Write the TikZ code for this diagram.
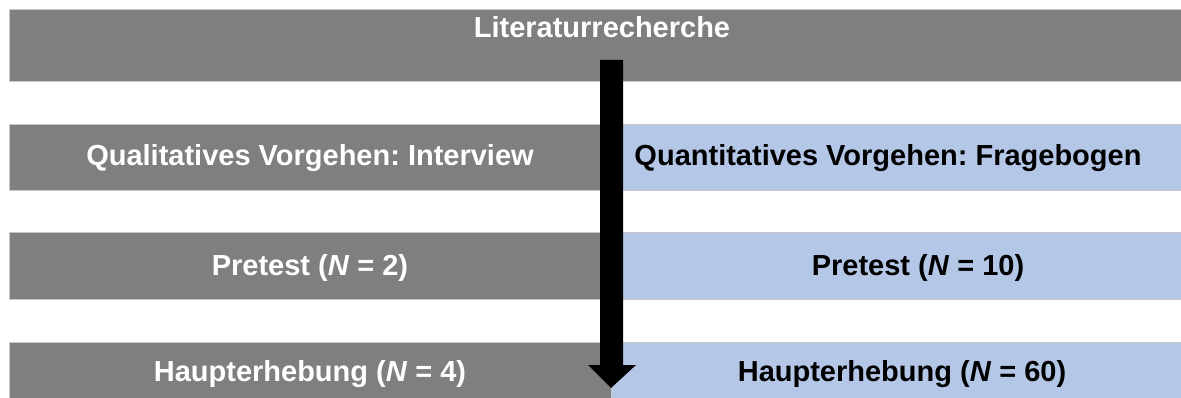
\documentclass[tikz,border=0pt]{standalone}
\usepackage{fontspec}
\setmainfont{Liberation Sans}
\newfontfamily\labfont{Liberation Sans}
\frenchspacing
\definecolor{boxgray}{HTML}{7F7F7F}
\definecolor{boxblue}{HTML}{B4C7E7}
\definecolor{edgegray}{HTML}{C8C8C8}
\begin{document}
\begin{tikzpicture}[x=1pt,y=-1pt,
  graybox/.style={fill=boxgray,draw=edgegray,line width=1pt},
  bluebox/.style={fill=boxblue,draw=edgegray,line width=1pt},
  wlabel/.style={text=white,font=\labfont\bfseries\fontsize{29}{33}\selectfont\frenchspacing,anchor=base,inner sep=0pt},
  blabel/.style={text=black,font=\labfont\bfseries\fontsize{29}{33}\selectfont\frenchspacing,anchor=base,inner sep=0pt}]
\useasboundingbox (0,0) rectangle (1181,398);
\clip (0,0) rectangle (1181,398);
% boxes
\draw[graybox] (9,10) rectangle (1185,82);
\draw[graybox] (9,125) rectangle (611,191);
\draw[bluebox] (611,125) rectangle (1185,191);
\draw[graybox] (9,233) rectangle (611,299);
\draw[bluebox] (611,233) rectangle (1185,299);
\draw[graybox] (9,342) rectangle (611,410);
\draw[bluebox] (611,342) rectangle (1185,410);
% labels
\node[wlabel] (lit) at (602,38) {Literaturrecherche};
\node[wlabel] (qual) at (310,166) {Qualitatives Vorgehen: Interview};
\node[blabel] (quant) at (888,166) {Quantitatives Vorgehen: Fragebogen};
\node[wlabel] (pre1) at (310,276) {Pretest (\textit{N} = 2)};
\node[blabel] (pre2) at (918,276) {Pretest (\textit{N} = 10)};
\node[wlabel] (main1) at (310,381) {Haupterhebung (\textit{N} = 4)};
\node[blabel] (main2) at (902,381) {Haupterhebung (\textit{N} = 60)};
% arrow
\coordinate (astart) at (611,60);
\coordinate (atip) at (611,388);
\fill[black] (600,60) -- (623,60) -- (623,365) -- (636,365) -- (atip) -- (588,365) -- (600,365) -- cycle;
\end{tikzpicture}
\end{document}
